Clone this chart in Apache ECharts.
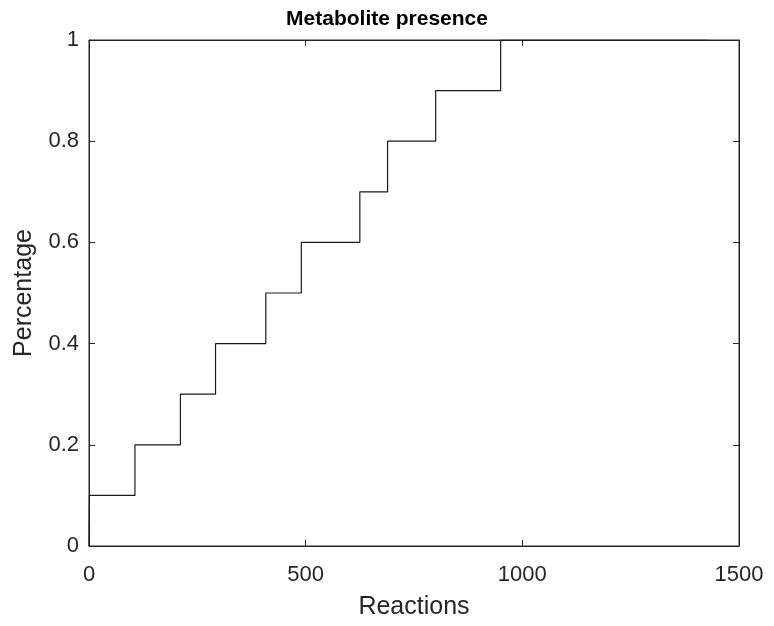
<!DOCTYPE html>
<html>
<head>
<meta charset="utf-8">
<style>
  html, body { margin: 0; padding: 0; background: #fff; }
  #chart { width: 774px; height: 626px; }
</style>
<script src="https://cdn.jsdelivr.net/npm/echarts@6/dist/echarts.min.js"></script>
</head>
<body>
<div id="chart"></div>
<script>
// Cumulative share of metabolites present vs. number of reactions (stairs)
const reactions = [0, 1, 106, 211, 292, 408, 490, 625, 689, 800, 950, 1427];
const percentage = [0, 0.1, 0.2, 0.3, 0.4, 0.5, 0.6, 0.7, 0.8, 0.9, 1.0, 1.0];
const xTicks = [0, 500, 1000, 1500];
const yTicks = [0, 0.2, 0.4, 0.6, 0.8, 1];

const FONT = 'Liberation Sans, Arial, Helvetica, sans-serif';
const AX = '#262626';

const chart = echarts.init(document.getElementById('chart'));

// inward ticks on all four sides of the box
function ticks() {
  return { show: true, inside: true, length: 6, lineStyle: { color: AX, width: 1 } };
}
function line() {
  return { show: true, onZero: false, lineStyle: { color: AX, width: 1 } };
}

chart.setOption({
  animation: false,
  backgroundColor: '#ffffff',
  title: {
    text: 'Metabolite presence',
    left: 'center',
    top: 4,
    textStyle: { fontFamily: FONT, fontWeight: 'bold', fontSize: 21, color: '#000' }
  },
  grid: {
    left: 89, right: 35, top: 40, bottom: 80,
    show: true, borderColor: AX, borderWidth: 1, backgroundColor: '#fff'
  },
  xAxis: [
    {
      type: 'value',
      min: xTicks[0], max: xTicks[xTicks.length - 1], interval: 500,
      name: 'Reactions', nameLocation: 'middle', nameGap: 49,
      nameTextStyle: { fontFamily: FONT, fontSize: 25, color: AX },
      axisLine: line(),
      axisTick: ticks(),
      splitLine: { show: false },
      axisLabel: { fontFamily: FONT, fontSize: 22, color: AX, margin: 18,
        formatter: v => String(v) }
    },
    {
      type: 'value', position: 'top',
      min: xTicks[0], max: xTicks[xTicks.length - 1], interval: 500,
      axisLine: line(),
      axisTick: ticks(),
      splitLine: { show: false },
      axisLabel: { show: false }
    }
  ],
  yAxis: [
    {
      type: 'value',
      min: yTicks[0], max: yTicks[yTicks.length - 1], interval: 0.2,
      name: 'Percentage', nameLocation: 'middle', nameGap: 52,
      nameTextStyle: { fontFamily: FONT, fontSize: 25, color: AX },
      axisLine: line(),
      axisTick: ticks(),
      splitLine: { show: false },
      axisLabel: { fontFamily: FONT, fontSize: 22, color: AX, margin: 10,
        formatter: v => String(Math.round(v * 10) / 10) }
    },
    {
      type: 'value', position: 'right',
      min: yTicks[0], max: yTicks[yTicks.length - 1], interval: 0.2,
      axisLine: line(),
      axisTick: ticks(),
      splitLine: { show: false },
      axisLabel: { show: false }
    }
  ],
  series: [
    {
      type: 'line',
      step: 'end',
      showSymbol: false,
      symbol: 'none',
      data: reactions.map((x, i) => [x, percentage[i]]),
      lineStyle: { color: '#1a1a1a', width: 1.2 }
    }
  ]
});
</script>
</body>
</html>
